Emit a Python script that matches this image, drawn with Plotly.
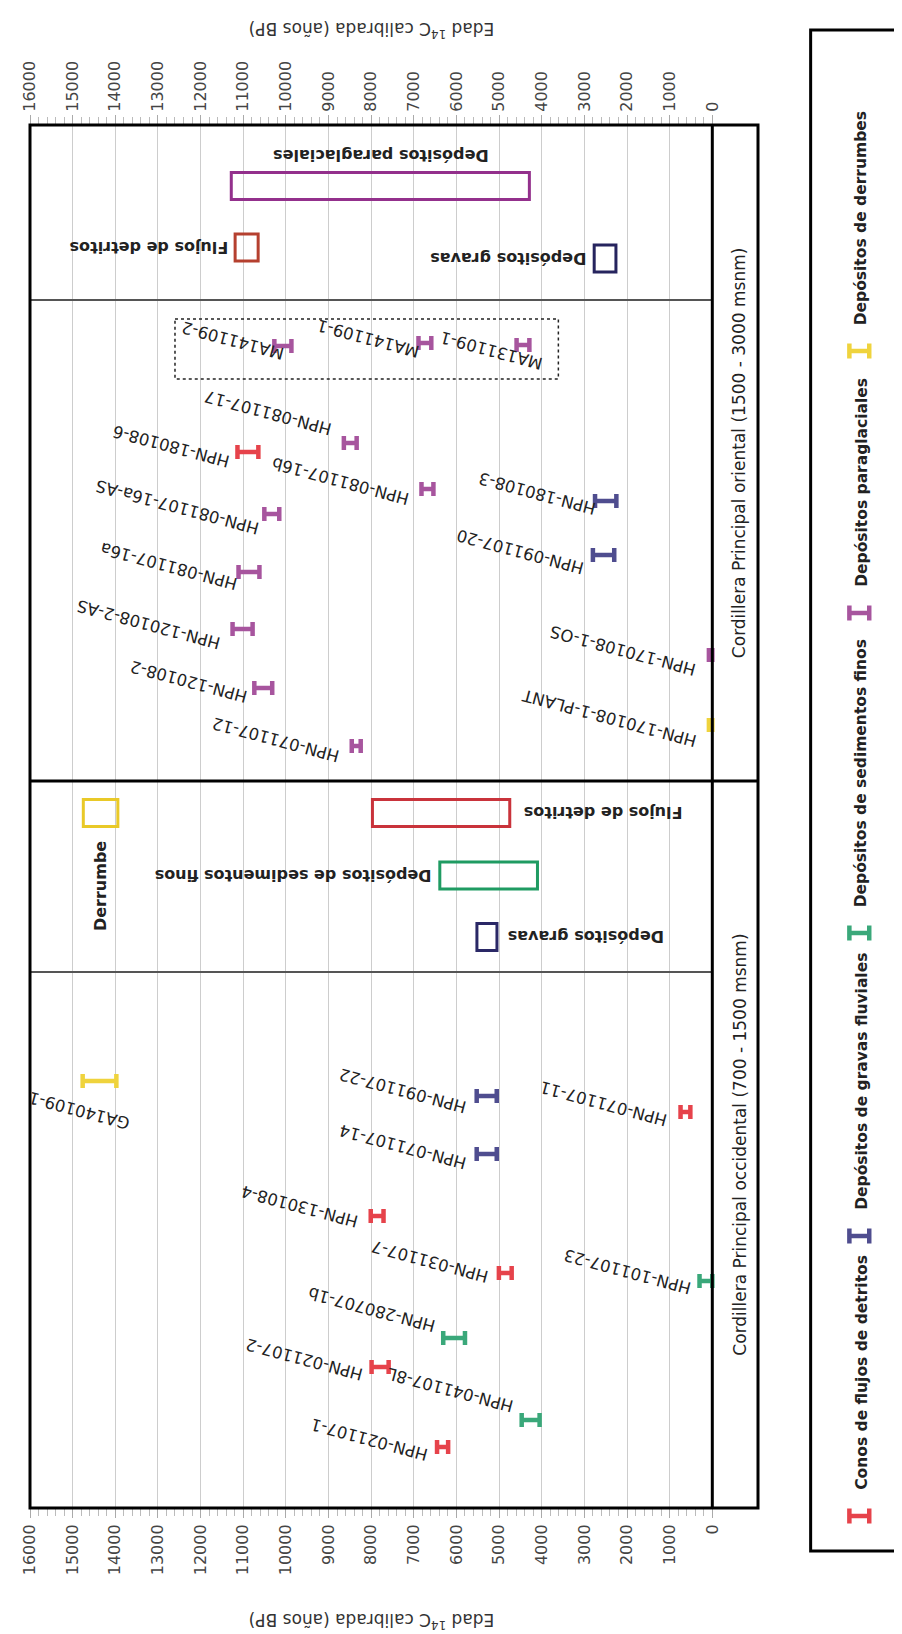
import plotly.graph_objects as go

# ------------------------------------------------------------------ data
facies_keys = ["conos", "gravas", "finos", "parag", "derr"]
facies_names = ["Conos de flujos de detritos", "Depósitos de gravas fluviales",
                "Depósitos de sedimentos finos", "Depósitos paraglaciales",
                "Depósitos de derrumbes"]

samples = ["MA141109-2", "MA141109-1", "MA131109-1", "HPN-081107-17", "HPN-180108-6",
           "HPN-081107-16b", "HPN-180108-3", "HPN-081107-16a-AS", "HPN-091107-20",
           "HPN-081107-16a", "HPN-120108-2-AS", "HPN-170108-1-OS", "HPN-120108-2",
           "HPN-170108-1-PLANT", "HPN-071107-12",
           "GA140109-1", "HPN-091107-22", "HPN-071107-11", "HPN-071107-14", "HPN-130108-4",
           "HPN-031107-7", "HPN-101107-23", "HPN-280707-1b", "HPN-021107-2",
           "HPN-041107-8L", "HPN-021107-1"]
age = [10070, 6740, 4440, 8490, 10890, 6680, 2500, 10330, 2550, 10865, 11015, 40,
       10530, 40, 8350,
       14370, 5290, 630, 5290, 7860, 4855, 150, 6055, 7790, 4260, 6325]
age_err = [200, 150, 150, 150, 245, 140, 250, 175, 250, 245, 235, 40, 210, 40, 105,
           395, 235, 115, 235, 150, 150, 150, 255, 200, 210, 130]
track = [22.1, 21.8, 22.0, 31.8, 32.7, 36.4, 37.6, 38.9, 43.0, 44.7, 50.4, 53.0,
         56.3, 60.0, 62.1,
         95.6, 97.1, 98.7, 102.9, 109.1, 114.8, 115.6, 121.3, 124.2, 129.5, 132.2]
facies = ["parag", "parag", "parag", "parag", "conos", "parag", "gravas", "parag",
          "gravas", "parag", "parag", "parag", "parag", "derr", "parag",
          "derr", "gravas", "conos", "gravas", "conos", "conos", "finos", "finos",
          "conos", "finos", "conos"]

summary_labels = ["Depósitos paraglaciales", "Flujos de detritos", "Depósitos gravas",
                  "Derrumbe", "Flujos de detritos", "Depósitos de sedimentos finos",
                  "Depósitos gravas"]
summary_old = [11280, 11190, 2770, 14750, 7970, 6390, 5520]
summary_young = [4290, 10650, 2260, 13940, 4750, 4100, 5050]
summary_track = [6.1, 12.25, 13.35, 68.8, 68.8, 75.05, 81.2]
summary_facies = ["parag", "conos", "gravas", "derr", "conos", "finos", "gravas"]

regions = ["Cordillera Principal oriental (1500 - 3000 msnm)",
           "Cordillera Principal occidental (700 - 1500 msnm)"]
region_bounds = [0, 65.6, 138.3]
subdividers = [17.5, 84.7]
group_box = dict(old=12600, young=3610, top=19.4, bottom=25.4)

age_ticks = list(range(0, 16001, 1000))
minor_ticks = [v for v in range(200, 16000, 200) if v % 1000]
axis_title = "Edad <sup>14</sup>C calibrada (años BP)"

# ------------------------------------------------------------------ style
FONT = "DejaVu Sans"
mark_color = {"conos": "#e6434b", "gravas": "#4f4d8f", "finos": "#3aa87a",
              "parag": "#a7559e", "derr": "#efd33d"}
box_color = ["#93308c", "#b5402f", "#26245e", "#e9c928", "#c9333b", "#1f9b62", "#2a2866"]
# label offsets (px) of the label's lower-right corner from the old end of each bar
label_dx = [14, 5, 30, -8, -3, -8, 5, -1, -5, 3, -8, -8, -3, -8, -8,
            52, -6, -9, -6, -8, -6, -4, -3, -4, -4, -5]
label_dy = [19, 20, 30, -2, 21, 22, 19, 26, 25, 24, 26, 26, 20, 28, 22,
            54, 23, 20, 21, 17, 15, 19, 0, 19, -2, 19]

W, H = 902, 1634
L, R, T, B = 17, 750, 117, 1500
ZERO_PX = 704
scale = (ZERO_PX - L) / 16000.0
x_right = -(R - ZERO_PX) / scale


def px(xp):
    return (xp - L) / (R - L)


def py(yp):
    return (B - yp) / (B - T)


fig = go.Figure()

for key, name in zip(facies_keys, facies_names):
    idx = [i for i, f in enumerate(facies) if f == key]
    fig.add_trace(go.Scatter(
        x=[age[i] for i in idx], y=[track[i] for i in idx], mode="markers",
        marker=dict(size=4, color=mark_color[key]),
        error_x=dict(type="data", array=[age_err[i] for i in idx],
                     color=mark_color[key], thickness=4.5, width=7),
        name=name, text=[samples[i] for i in idx], hoverinfo="text", showlegend=False))

fig.add_trace(go.Scatter(x=[0], y=[0], xaxis="x2", mode="markers",
                         marker=dict(opacity=0), hoverinfo="skip", showlegend=False))

axis_common = dict(
    range=[16000, x_right], tickmode="array", tickvals=age_ticks,
    ticktext=[str(v) for v in age_ticks], tickangle=-90,
    ticks="outside", ticklen=9, tickcolor="#aaaaaa", tickwidth=1,
    tickfont=dict(family=FONT, size=16, color="#444444"),
    zeroline=False, showline=False,
    minor=dict(tickmode="array", tickvals=minor_ticks, ticks="outside", ticklen=7,
               tickcolor="#bbbbbb", showgrid=False),
)

fig.update_layout(
    width=W, height=H, margin=dict(l=L, r=W - R, t=T, b=H - B, pad=0),
    plot_bgcolor="white", paper_bgcolor="white", showlegend=False,
    font=dict(family=FONT, color="#222222"),
    xaxis=dict(**axis_common, side="bottom", showgrid=True, gridcolor="#cdcdcd", gridwidth=1),
    xaxis2=dict(**axis_common, side="top", overlaying="x", anchor="y", showgrid=False),
    yaxis=dict(range=[region_bounds[-1], 0], visible=False, showgrid=False, zeroline=False),
)

shapes = []
# summary boxes
for lab, o, yv, t, col in zip(summary_labels, summary_old, summary_young, summary_track, box_color):
    shapes.append(dict(type="rect", xref="x", yref="y", x0=o, x1=yv, y0=t - 1.35, y1=t + 1.35,
                       line=dict(color=col, width=3)))
# dotted group box
shapes.append(dict(type="rect", xref="x", yref="y", x0=group_box["old"], x1=group_box["young"],
                   y0=group_box["top"], y1=group_box["bottom"],
                   line=dict(color="#222222", width=1.5, dash="dot")))
# subdividers
for s in subdividers:
    shapes.append(dict(type="line", xref="x", yref="y", x0=16000, x1=0, y0=s, y1=s,
                       line=dict(color="#555555", width=2)))
# region divider
shapes.append(dict(type="line", xref="paper", yref="y", x0=0, x1=1,
                   y0=region_bounds[1], y1=region_bounds[1], line=dict(color="black", width=3)))
# zero line
shapes.append(dict(type="line", xref="x", yref="paper", x0=0, x1=0, y0=0, y1=1,
                   line=dict(color="black", width=3)))
# frame
shapes.append(dict(type="rect", xref="paper", yref="paper", x0=0, x1=1, y0=0, y1=1,
                   line=dict(color="black", width=3)))
# legend frame
shapes.append(dict(type="rect", xref="paper", yref="paper", x0=px(803), x1=px(900),
                   y0=py(1543), y1=py(22), line=dict(color="black", width=3)))

annotations = []
# legend
legend_icon_y = [1508, 1228, 925, 605, 343]
LX = 852
for key, name, iy in zip(facies_keys, facies_names, legend_icon_y):
    c = mark_color[key]
    shapes.append(dict(type="line", xref="paper", yref="paper", x0=px(LX - 10), x1=px(LX + 10),
                       y0=py(iy), y1=py(iy), line=dict(color=c, width=4.5)))
    for dx in (-10, 10):
        shapes.append(dict(type="line", xref="paper", yref="paper", x0=px(LX + dx), x1=px(LX + dx),
                           y0=py(iy - 7.5), y1=py(iy + 7.5), line=dict(color=c, width=4.5)))
    annotations.append(dict(text=name, xref="paper", yref="paper", x=px(854), y=py(iy - 24),
                            xanchor="center", yanchor="bottom", textangle=-90, showarrow=False,
                            font=dict(family=FONT, size=15.5, color="#222222", weight="bold")))

# sample labels
for i, s in enumerate(samples):
    annotations.append(dict(text=s, x=age[i] + age_err[i], y=track[i], xref="x", yref="y",
                            xanchor="right", yanchor="bottom", xshift=label_dx[i],
                            yshift=-label_dy[i], textangle=-165, showarrow=False,
                            font=dict(family=FONT, size=16.5, color="#222222")))

# summary labels
bold = dict(family=FONT, size=16, color="#222222", weight="bold")
annotations += [
    dict(text=summary_labels[0], x=(summary_old[0] + summary_young[0]) / 2, y=summary_track[0] - 3.0,
         xanchor="center", yanchor="middle", textangle=180),
    dict(text=summary_labels[1], x=summary_old[1], y=summary_track[1], xanchor="right",
         yanchor="middle", xshift=-5, textangle=180),
    dict(text=summary_labels[2], x=summary_old[2], y=summary_track[2], xanchor="right",
         yanchor="middle", xshift=-6, textangle=180),
    dict(text=summary_labels[3], x=(summary_old[3] + summary_young[3]) / 2, y=summary_track[3] + 1.35,
         xanchor="center", yanchor="top", yshift=-13, textangle=-90),
    dict(text=summary_labels[4], x=summary_young[4], y=summary_track[4], xanchor="left",
         yanchor="middle", xshift=12, textangle=180),
    dict(text=summary_labels[5], x=summary_old[5], y=summary_track[5], xanchor="right",
         yanchor="middle", xshift=-6, textangle=180),
    dict(text=summary_labels[6], x=summary_young[6], y=summary_track[6], xanchor="left",
         yanchor="middle", xshift=9, textangle=180),
]
for a in annotations[-7:]:
    a.update(xref="x", yref="y", showarrow=False, font=bold)

# region labels
for k, r in enumerate(regions):
    annotations.append(dict(text=r, xref="paper", yref="y", x=px(731),
                            y=(region_bounds[k] + region_bounds[k + 1]) / 2,
                            xanchor="center", yanchor="middle", textangle=-90, showarrow=False,
                            font=dict(family=FONT, size=17, color="#222222")))

# axis titles (upside down)
for yy in (22, 1613):
    annotations.append(dict(text=axis_title, xref="paper", yref="paper", x=px(361), y=py(yy),
                            xanchor="center", yanchor="middle", textangle=180, showarrow=False,
                            font=dict(family=FONT, size=17, color="#333333")))

fig.update_layout(shapes=shapes, annotations=annotations)
fig.write_html("out.html")
